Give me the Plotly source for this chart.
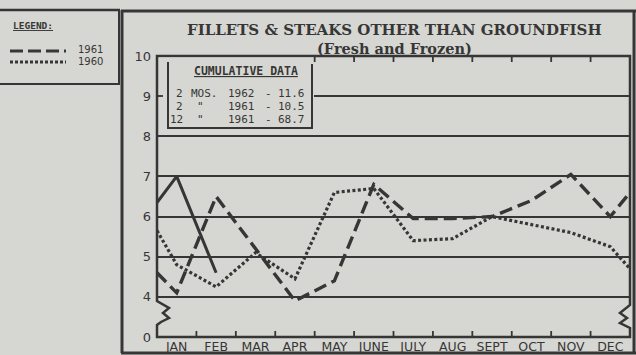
import plotly.graph_objects as go

# ---- data -------------------------------------------------------------
months = ["JAN", "FEB", "MAR", "APR", "MAY", "JUNE",
          "JULY", "AUG", "SEPT", "OCT", "NOV", "DEC"]

# monthly values (millions of pounds)
y1962 = [7.0, 4.6]
y1961 = [4.1, 6.5, 5.2, 3.9, 4.4, 6.8, 5.95, 5.95, 6.0, 6.4, 7.05, 6.0]
y1960 = [4.8, 4.25, 5.1, 4.45, 6.6, 6.7, 5.4, 5.45, 6.0, 5.8, 5.6, 5.25]

# values where each year's line crosses the December/January boundary
entry_1962, entry_1961, entry_1960 = 6.35, 4.6, 5.65
exit_1961, exit_1960 = 6.6, 4.7

y_tickvals = [3, 4, 5, 6, 7, 8, 9, 10]
y_ticktext = ["0", "4", "5", "6", "7", "8", "9", "10"]

cum_periods = ["2", "2", "12"]
cum_years = ["1962", "1961", "1961"]
cum_values = ["11.6", "10.5", "68.7"]

# ---- layout helpers ---------------------------------------------------
W, H = 636, 355
BG = "#d6d6d2"
INK = "#363636"


def px(x):
    return x / W


def py(y):
    return 1 - y / H


def series(vals, entry=None, exit_=None):
    xs = list(range(len(vals)))
    ys = list(vals)
    if entry is not None:
        xs = [-0.5] + xs
        ys = [entry] + ys
    if exit_ is not None:
        xs = xs + [11.5]
        ys = ys + [exit_]
    return xs, ys


fig = go.Figure()

x, y = series(y1960, entry_1960, exit_1960)
fig.add_trace(go.Scatter(x=x, y=y, mode="lines",
                         line=dict(color=INK, width=3.2, dash="3px,2.4px")))
x, y = series(y1961, entry_1961, exit_1961)
fig.add_trace(go.Scatter(x=x, y=y, mode="lines",
                         line=dict(color=INK, width=3.4, dash="13px,6px")))
x, y = series(y1962, entry_1962)
fig.add_trace(go.Scatter(x=x, y=y, mode="lines",
                         line=dict(color=INK, width=3)))

shapes = []


def seg(x0, y0, x1, y1, w=2.5, dash=None):
    d = dict(type="line", xref="paper", yref="paper",
             x0=px(x0), y0=py(y0), x1=px(x1), y1=py(y1),
             line=dict(color=INK, width=w), layer="above")
    if dash:
        d["line"]["dash"] = dash
    shapes.append(d)


# outer panel frame
seg(122, 10, 122, 353, 3)
seg(121, 11, 636, 11, 3)
seg(634, 10, 634, 353, 3)
seg(121, 353, 636, 353, 3)

# legend box
seg(0, 10, 120, 10, 2.5)
seg(119, 10, 119, 84, 2)
seg(0, 84, 120, 84, 2)
seg(10, 51, 66, 51, 3, "13px,5px")
seg(10, 62, 66, 62, 3, "3px,2px")

# plot frame with axis-break squiggles on both sides
pts = [(157, 56), (630, 56), (630, 305), (620, 313), (627, 318), (620, 323),
       (630, 328), (630, 337), (157, 337), (157, 325), (161, 322), (169, 318),
       (163, 313), (169, 308), (157, 301)]
path = "M " + " L ".join(f"{px(a):.5f},{py(b):.5f}" for a, b in pts) + " Z"
shapes.append(dict(type="path", xref="paper", yref="paper", path=path,
                   line=dict(color=INK, width=2.5), layer="above"))

# cumulative-data inset (covers the grid line behind it)
shapes.append(dict(type="rect", xref="paper", yref="paper",
                   x0=px(159), x1=px(314), y0=py(129), y1=py(57.5),
                   fillcolor=BG, line=dict(width=0), layer="above"))
seg(168, 62, 168, 128, 2)
seg(167, 128, 313, 128, 2)
seg(312, 64, 312, 128, 2)
# small tick beside the 9 label
seg(157, 96, 163, 96, 1.8)

# month boundary ticks
for k in range(11):
    xv = k + 0.5
    shapes.append(dict(type="line", xref="x", yref="paper", x0=xv, x1=xv,
                       y0=py(337), y1=py(331),
                       line=dict(color=INK, width=1.8), layer="above"))
    if xv > 3:
        shapes.append(dict(type="line", xref="x", yref="paper", x0=xv, x1=xv,
                           y0=py(56), y1=py(62),
                           line=dict(color=INK, width=1.8), layer="above"))

annotations = []


def text(t, x, y, size, family="DejaVu Sans", anchor="center", color=INK):
    annotations.append(dict(text=t, x=px(x), y=py(y), xref="paper", yref="paper",
                            xanchor=anchor, yanchor="middle", showarrow=False,
                            borderpad=0,
                            font=dict(family=family, size=size, color=color)))


text("<b>FILLETS &amp; STEAKS OTHER THAN GROUNDFISH</b>", 394, 30, 15,
     "DejaVu Serif")
text("<b>(Fresh and Frozen)</b>", 394, 48.5, 14.5, "DejaVu Serif")

text("<b><u>LEGEND:</u></b>", 12, 25, 9.5, "DejaVu Sans Mono", "left")
text("1961", 77, 49, 10, "DejaVu Sans", "left")
text("1960", 77, 61, 10, "DejaVu Sans", "left")

text("<b><u>CUMULATIVE DATA</u></b>", 246, 71, 11.5, "DejaVu Sans Mono")
rows_y = [93, 106.5, 119.5]
for i, yy in enumerate(rows_y):
    text(cum_periods[i], 184, yy, 11, "DejaVu Sans Mono", "right")
    if i == 0:
        text("MOS.", 190, yy, 11, "DejaVu Sans Mono", "left")
    else:
        text('"', 200, yy, 11, "DejaVu Sans Mono")
    text(cum_years[i], 227, yy, 11, "DejaVu Sans Mono", "left")
    text("-", 268, yy, 11, "DejaVu Sans Mono")
    text(cum_values[i], 277, yy, 11, "DejaVu Sans Mono", "left")

fig.update_layout(
    width=W, height=H,
    margin=dict(l=0, r=0, t=0, b=0, autoexpand=False),
    paper_bgcolor=BG, plot_bgcolor=BG,
    showlegend=False,
    shapes=shapes, annotations=annotations,
    xaxis=dict(domain=[px(157), px(630)], range=[-0.5, 11.5],
               tickvals=list(range(12)), ticktext=months, automargin=False,
               showgrid=False, zeroline=False, showline=False, ticks="",
               ticklabelstandoff=0,
               tickfont=dict(family="DejaVu Sans", size=12.5, color=INK)),
    yaxis=dict(domain=[py(337), py(56)], range=[3, 10],
               tickvals=y_tickvals, ticktext=y_ticktext, automargin=False,
               showgrid=True, gridcolor=INK, gridwidth=1.8,
               zeroline=False, showline=False, ticks="",
               ticklabelstandoff=5,
               tickfont=dict(family="DejaVu Sans", size=13, color=INK)),
)

fig.write_html("out.html")
